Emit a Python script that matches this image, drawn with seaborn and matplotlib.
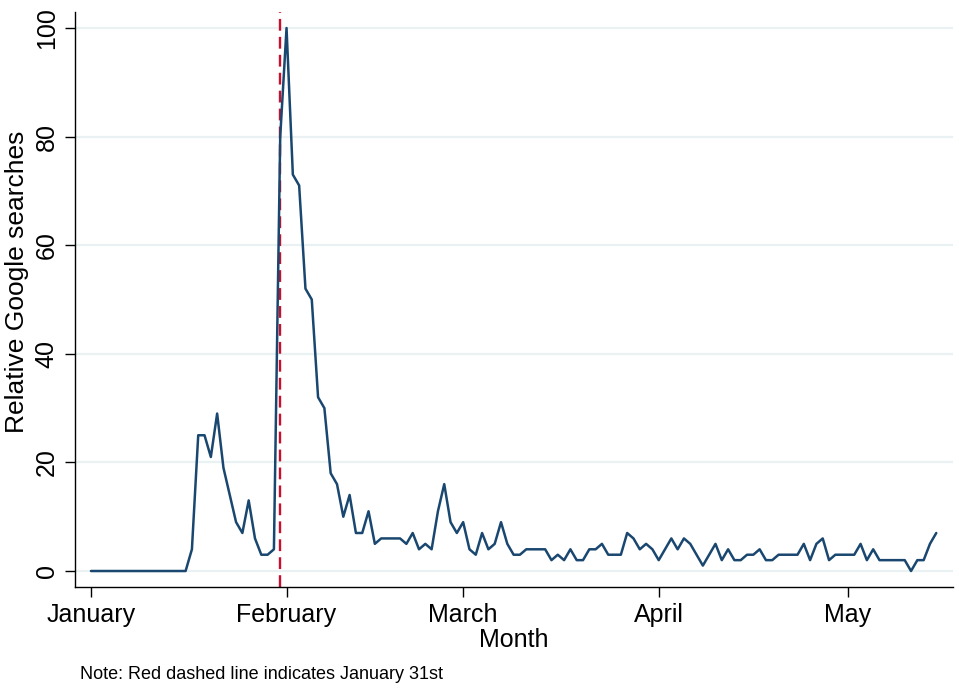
import pandas as pd
import matplotlib
matplotlib.use("Agg")
import matplotlib.pyplot as plt
import seaborn as sns

# daily relative search interest, starting 1 January
start_date = "2021-01-01"
searches = [0, 0, 0, 0, 0, 0, 0, 0, 0, 0, 0, 0, 0, 0, 0, 0,
            4, 25, 25, 21, 29, 19, 14, 9, 7, 13, 6, 3, 3, 4,
            80, 100, 73, 71, 52, 50, 32, 30, 18, 16, 10, 14, 7, 7, 11, 5,
            6, 6, 6, 6, 5, 7, 4, 5, 4, 11, 16, 9, 7, 9,
            4, 3, 7, 4, 5, 9, 5, 3, 3, 4, 4, 4, 4, 2, 3, 2, 4, 2, 2, 4,
            4, 5, 3, 3, 3, 7, 6, 4, 5, 4,
            2, 4, 6, 4, 6, 5, 3, 1, 3, 5, 2, 4, 2, 2, 3, 3, 4, 2, 2, 3,
            3, 3, 3, 5, 2, 5, 6, 2, 3, 3,
            3, 3, 5, 2, 4, 2, 2, 2, 2, 2, 0, 2, 2, 5, 7]
month_starts = ["2021-01-01", "2021-02-01", "2021-03-01", "2021-04-01", "2021-05-01"]
month_labels = ["January", "February", "March", "April", "May"]
y_ticks = [0, 20, 40, 60, 80, 100]
event_date = "2021-01-31"
note = "Note: Red dashed line indicates January 31st"

df = pd.DataFrame({
    "date": pd.date_range(start_date, periods=len(searches), freq="D"),
    "searches": searches,
})

sns.set_theme(style="white")
plt.rcParams['font.family'] = ['Liberation Sans', 'DejaVu Sans']
plt.rcParams['text.color'] = 'black'
plt.rcParams['axes.labelcolor'] = 'black'
plt.rcParams['xtick.color'] = 'black'
plt.rcParams['ytick.color'] = 'black'

fig = plt.figure(figsize=(9.59, 6.89), dpi=100)
ax = fig.add_axes([0.0779, 0.1476, 0.9155, 0.8354])

for y in y_ticks:
    ax.axhline(y, color="#e9f1f3", lw=1.6, zorder=0)

ax.axvline(pd.Timestamp(event_date), color="#c8102e", lw=1.7,
           dashes=(5, 2.6), zorder=1)

sns.lineplot(data=df, x="date", y="searches", ax=ax, color="#1a476f",
             lw=1.8, zorder=2)

t0 = pd.Timestamp(start_date)
ax.set_xlim(t0 - pd.Timedelta(days=2.58), t0 + pd.Timedelta(days=136.6))
ax.set_ylim(-3, 103)

ax.set_xticks(pd.to_datetime(month_starts))
ax.set_xticklabels(month_labels)
ax.set_yticks(y_ticks)
ax.set_yticklabels([str(v) for v in y_ticks], rotation=90, va="center")

ax.tick_params(axis="both", which="major", length=7, width=1, color="black",
               labelsize=18, direction="out", bottom=True, left=True)
ax.tick_params(axis="y", pad=4.5)
ax.tick_params(axis="x", pad=4.2)

for side in ["top", "right"]:
    ax.spines[side].set_visible(False)
for side in ["left", "bottom"]:
    ax.spines[side].set_color("black")
    ax.spines[side].set_linewidth(1)

ax.set_xlabel("Month", fontsize=18)
ax.set_ylabel("Relative Google searches", fontsize=19)
ax.xaxis.set_label_coords(0.5, -0.071)
ax.yaxis.set_label_coords(-0.052, 0.531)

fig.text(80 / 959, 1 - 679 / 689, note, fontsize=13, ha="left", va="baseline")

fig.savefig("out.png", dpi=100)
